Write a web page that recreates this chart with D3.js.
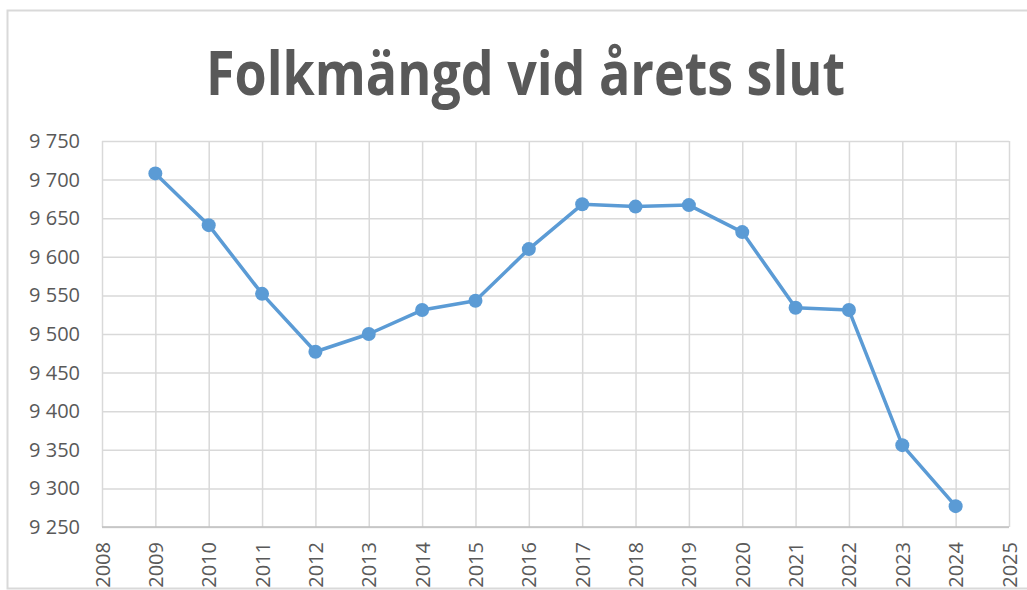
<!DOCTYPE html>
<html>
<head>
<meta charset="utf-8">
<script src="https://cdn.jsdelivr.net/npm/d3@7"></script>
<style>
  body { margin: 0; background: #fff; }
  svg { display: block; }
</style>
</head>
<body>
<div class="chart-container"></div>
<script>
// data
var years = [2009, 2010, 2011, 2012, 2013, 2014, 2015, 2016, 2017, 2018, 2019, 2020, 2021, 2022, 2023, 2024];
var population = [9708, 9641, 9552, 9477, 9500, 9531, 9543, 9610, 9668, 9665, 9667, 9632, 9534, 9531, 9356, 9277];
var yTicks = [9250, 9300, 9350, 9400, 9450, 9500, 9550, 9600, 9650, 9700, 9750];
var xTicks = [2008, 2009, 2010, 2011, 2012, 2013, 2014, 2015, 2016, 2017, 2018, 2019, 2020, 2021, 2022, 2023, 2024, 2025];
var title = "Folkmängd vid årets slut";

var width = 1027, height = 590;
var plotLeft = 102, plotRight = 1009, plotTop = 141, plotBottom = 527;

var svg = d3.select(".chart-container")
    .append("svg")
    .attr("width", width)
    .attr("height", height);

svg.append("clipPath").attr("id", "frame")
    .append("rect")
    .attr("x", 7).attr("y", 10)
    .attr("width", 1040).attr("height", 578);

var g = svg.append("g").attr("clip-path", "url(#frame)");

// chart border
svg.append("rect")
    .attr("x", 7.5).attr("y", 10.5)
    .attr("width", 1040).attr("height", 578)
    .style("fill", "none")
    .style("stroke", "#d9d9d9")
    .style("stroke-width", 2);

var x = d3.scaleLinear().domain([2008, 2025]).range([plotLeft, plotRight]);
var y = d3.scaleLinear().domain([9250, 9750]).range([plotBottom, plotTop]);

var fmt = d3.formatLocale({decimal: ",", thousands: "\u00a0", grouping: [3], currency: ["", ""]}).format(",");

// horizontal gridlines + y labels
var yAxis = g.append("g")
    .attr("transform", "translate(" + plotLeft + ",0)")
    .call(d3.axisLeft(y).tickValues(yTicks).tickSize(-(plotRight - plotLeft)).tickPadding(22).tickFormat(fmt));

// vertical gridlines + x labels
var xAxis = g.append("g")
    .attr("transform", "translate(0," + plotBottom + ")")
    .call(d3.axisBottom(x).tickValues(xTicks).tickSize(-(plotBottom - plotTop)).tickFormat(d3.format("d")));

[yAxis, xAxis].forEach(function(a) {
    a.select(".domain").remove();
    a.selectAll(".tick line").style("stroke", "#d9d9d9").style("stroke-width", 1.5);
    a.selectAll("text")
        .style("font-family", "'Open Sans', sans-serif")
        .style("font-size", "20px")
        .style("fill", "#595959");
});

xAxis.selectAll("text")
    .attr("y", 0).attr("x", 0)
    .attr("dy", "0.35em")
    .attr("transform", "translate(0,15) rotate(-90)")
    .style("text-anchor", "end");

// axis base line
g.append("line")
    .attr("x1", plotLeft).attr("x2", plotRight)
    .attr("y1", plotBottom).attr("y2", plotBottom)
    .style("stroke", "#bfbfbf").style("stroke-width", 1.5);

// title
g.append("text")
    .attr("x", 206).attr("y", 95)
    .attr("textLength", 639)
    .attr("lengthAdjust", "spacingAndGlyphs")
    .style("font-family", "'Open Sans', sans-serif")
    .style("font-weight", "bold")
    .style("font-size", "61px")
    .style("fill", "#595959")
    .text(title);

var points = years.map(function(d, i) { return {year: d, value: population[i]}; });

var line = d3.line()
    .x(function(d) { return x(d.year); })
    .y(function(d) { return y(d.value); });

g.append("path")
    .datum(points)
    .attr("d", line)
    .style("fill", "none")
    .style("stroke", "#5b9bd5")
    .style("stroke-width", 3.5)
    .style("stroke-linejoin", "round");

g.append("g")
    .selectAll("circle")
    .data(points)
    .enter().append("circle")
    .attr("cx", function(d) { return x(d.year); })
    .attr("cy", function(d) { return y(d.value); })
    .attr("r", 7)
    .style("fill", "#5b9bd5");
</script>
</body>
</html>
